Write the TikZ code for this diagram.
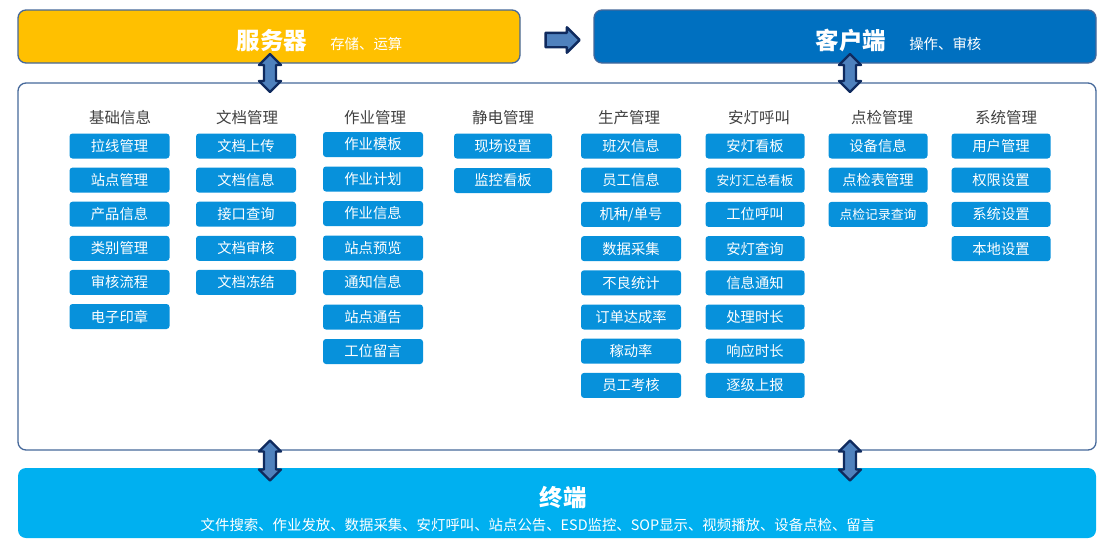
\documentclass[tikz,border=0pt]{standalone}
\usepackage{fontspec}
\setmainfont{Noto Sans CJK SC}
\usetikzlibrary{positioning,shapes.arrows}
\definecolor{srvyellow}{HTML}{FFC000}
\definecolor{cliblue}{HTML}{0070C0}
\definecolor{termblue}{HTML}{00B0F0}
\definecolor{btnblue}{HTML}{0791DB}
\definecolor{edgeblue}{HTML}{45689A}
\definecolor{headgrey}{HTML}{404040}
\definecolor{arrfill}{HTML}{4F81BD}
\definecolor{arrnavy}{HTML}{0F2A5E}
\tikzset{
  panel/.style={draw=edgeblue, line width=1.3pt, rounded corners=8pt, inner sep=0pt},
  btn/.style={fill=btnblue, rounded corners=3pt, minimum width=100pt, minimum height=25pt, inner sep=0pt, text=white},
  colhead/.style={text=headgrey, font=\fontsize{15.5}{15.5}\selectfont},
  bigtitle/.style={text=white, font=\fontsize{23.5}{23.5}\selectfont\bfseries},
  subtitle/.style={text=white, font=\fontsize{14.4}{14.4}\selectfont},
  updown/.style={double arrow, rotate=90, fill=arrfill, draw=arrnavy, line width=2.4pt, inner xsep=0pt, inner ysep=4.8pt, double arrow head extend=5pt, minimum height=38pt},
}
\begin{document}
\begin{tikzpicture}[x=1pt, y=-1pt, font=\fontsize{14.3}{14.3}\selectfont, line join=round]
	\useasboundingbox (0,0) rectangle (1111,544);
	% outer boxes
	\node[panel, fill=srvyellow, minimum width=502pt, minimum height=53pt] (srv) at (269,36.5) {};
	\node[panel, fill=cliblue, minimum width=502pt, minimum height=53pt] (cli) at (845,36.5) {};
	\node[panel, minimum width=1078pt, minimum height=367pt] (main) at (557,266.5) {};
	\node[panel, draw=none, fill=termblue, minimum width=1078pt, minimum height=70pt] (term) at (557,503) {};
	% titles
	\node[bigtitle] (srvT) at (272,41) {服务器};
	\node[subtitle, base right=16pt of srvT] {存储、运算};
	\node[bigtitle] (cliT) at (851,41) {客户端};
	\node[subtitle, base right=16pt of cliT] {操作、审核};
	\node[bigtitle] (termT) at (563,498) {终端};
	\node[subtitle] (termS) at (538,525) {文件搜索、作业发放、数据采集、安灯呼叫、站点公告、ESD监控、SOP显示、视频播放、设备点检、留言};
	% block arrows
	\node[single arrow, fill=arrfill, draw=arrnavy, line width=2.4pt, inner xsep=0pt, inner ysep=6pt, single arrow head extend=5.5pt, minimum height=34pt] (sc) at (559,40) {};
	\node[updown] (a1) at (270,73) {};
	\node[updown] (a2) at (850,73) {};
	\node[updown, minimum height=40pt] (a3) at (270,460.5) {};
	\node[updown, minimum height=40pt] (a4) at (850,460.5) {};
	% column heads
	\node[colhead] (h1) at (120,118) {基础信息};
	\node[colhead] (h2) at (247,118) {文档管理};
	\node[colhead] (h3) at (375,118) {作业管理};
	\node[colhead] (h4) at (503,118) {静电管理};
	\node[colhead] (h5) at (629,118) {生产管理};
	\node[colhead] (h6) at (759,118) {安灯呼叫};
	\node[colhead] (h7) at (882,118) {点检管理};
	\node[colhead] (h8) at (1006,118) {系统管理};
	% buttons
	\foreach \t [count=\i] in {拉线管理,站点管理,产品信息,类别管理,审核流程,电子印章}
		\node[btn] (jc\i) at (119.5,{146+34.1*(\i-1)}) {\t};
	\foreach \t [count=\i] in {文档上传,文档信息,接口查询,文档审核,文档冻结}
		\node[btn] (wd\i) at (246,{146+34.1*(\i-1)}) {\t};
	\foreach \t [count=\i] in {作业模板,作业计划,作业信息,站点预览,通知信息,站点通告,工位留言}
		\node[btn] (zy\i) at (373,{144.5+34.5*(\i-1)}) {\t};
	\foreach \t [count=\i] in {现场设置,监控看板}
		\node[btn, minimum width=98pt] (jd\i) at (503,{146+34.5*(\i-1)}) {\t};
	\foreach \t [count=\i] in {班次信息,员工信息,{机种/单号},数据采集,不良统计,订单达成率,稼动率,员工考核}
		\node[btn] (sc\i) at (631,{146+34.2*(\i-1)}) {\t};
	\foreach \t [count=\i] in {安灯看板,{\fontsize{12.8}{12.8}\selectfont 安灯汇总看板},工位呼叫,安灯查询,信息通知,处理时长,响应时长,逐级上报}
		\node[btn, minimum width=99pt] (ad\i) at (755,{146+34.2*(\i-1)}) {\t};
	\foreach \t [count=\i] in {设备信息,点检表管理,{\fontsize{12.8}{12.8}\selectfont 点检记录查询}}
		\node[btn, minimum width=99pt] (dj\i) at (878,{146+34.2*(\i-1)}) {\t};
	\foreach \t [count=\i] in {用户管理,权限设置,系统设置,本地设置}
		\node[btn, minimum width=99pt] (xt\i) at (1001,{146+34.2*(\i-1)}) {\t};
\end{tikzpicture}
\end{document}
